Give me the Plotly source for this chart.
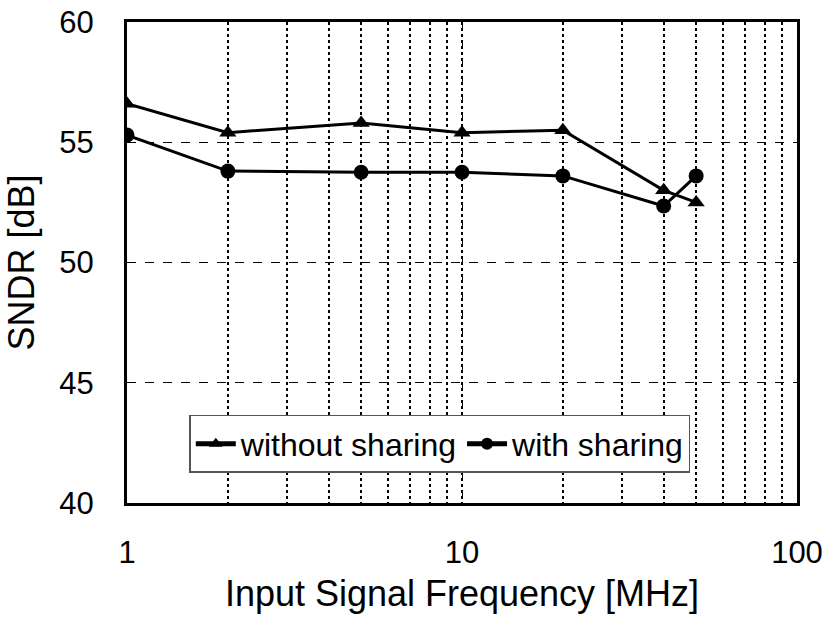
import plotly.graph_objects as go

# Input signal frequency in MHz
freq_mhz = [1, 2, 5, 10, 20, 40, 50]

# SNDR in dB for each configuration
sndr_without_sharing = [56.6, 55.4, 55.8, 55.4, 55.5, 53.0, 52.5]
sndr_with_sharing = [55.3, 53.8, 53.75, 53.75, 53.6, 52.35, 53.6]

y_ticks = [40, 45, 50, 55, 60]
x_ticks = [1, 10, 100]

font_family = "Liberation Sans, Arial, sans-serif"

fig = go.Figure()
fig.add_trace(go.Scatter(
    x=freq_mhz, y=sndr_without_sharing, name="without sharing",
    mode="lines+markers",
    line=dict(color="black", width=3),
    marker=dict(symbol="triangle-up", size=15, color="black"),
))
fig.add_trace(go.Scatter(
    x=freq_mhz, y=sndr_with_sharing, name="with sharing",
    mode="lines+markers",
    line=dict(color="black", width=3),
    marker=dict(symbol="circle", size=15, color="black"),
))

fig.update_layout(
    width=834, height=620,
    margin=dict(l=127, r=37, t=22, b=117, autoexpand=False),
    paper_bgcolor="white", plot_bgcolor="white",
    font=dict(family=font_family, size=30, color="black"),
    showlegend=True,
    legend=dict(
        orientation="h",
        x=0.093, y=0.183, xanchor="left", yanchor="top",
        bgcolor="white", bordercolor="#555", borderwidth=1.5,
        font=dict(size=32),
        itemwidth=40, itemsizing="constant", tracegroupgap=0,
    ),
)

fig.update_xaxes(
    type="log", range=[0, 2],
    tickvals=x_ticks, ticktext=[str(v) for v in x_ticks],
    tickfont=dict(size=31),
    ticks="", ticklabelstandoff=20,
    showline=True, linecolor="black", linewidth=3, mirror=True,
    showgrid=True, gridcolor="black", griddash="dash", gridwidth=1.2,
    minor=dict(dtick="D1", showgrid=True, gridcolor="black", griddash="dot", gridwidth=2),
    title=dict(text="Input Signal Frequency [MHz]", standoff=12),
    zeroline=False, automargin=False,
)
fig.update_yaxes(
    range=[40, 60],
    tickvals=y_ticks,
    tickfont=dict(size=31),
    ticks="", ticklabelstandoff=24,
    showline=True, linecolor="black", linewidth=3, mirror=True,
    showgrid=True, gridcolor="black", griddash="dash", gridwidth=1.2,
    title=dict(text="SNDR [dB]", standoff=14),
    zeroline=False, automargin=False,
)

fig.write_html("out.html")
